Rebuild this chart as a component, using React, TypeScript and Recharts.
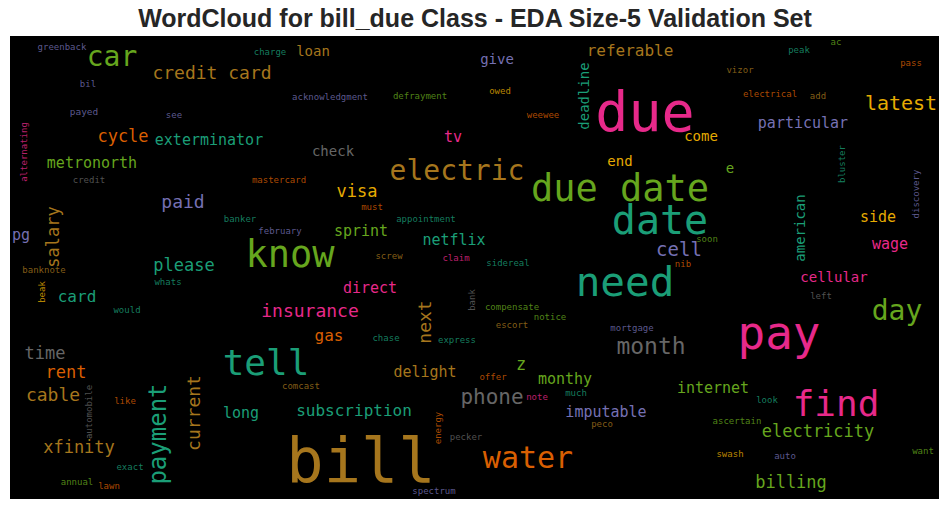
import React from 'react';
import { ScatterChart, Scatter, XAxis, YAxis, ReferenceArea } from 'recharts';

// Dark2 palette, the colormap used by the word cloud
const palette = ['#1b9e77', '#d95f02', '#7570b3', '#e7298a', '#66a61e', '#e6ab02', '#a6761d', '#666666'];
const TEAL = 0, ORANGE = 1, PURPLE = 2, PINK = 3, GREEN = 4, YELLOW = 5, BROWN = 6, GRAY = 7;

const words = [
  'greenback', 'car', 'credit card', 'bil', 'payed', 'see', 'cycle', 'exterminator', 'metronorth', 'alternating',
  'credit', 'charge', 'loan', 'acknowledgment', 'defrayment', 'tv', 'check', 'electric', 'mastercard', 'visa',
  'give', 'referable', 'owed', 'weewee', 'deadline', 'due', 'come', 'end', 'due date', 'peak',
  'ac', 'pass', 'vizor', 'electrical', 'add', 'latest', 'particular', 'e', 'bluster', 'discovery',
  'paid', 'banker', 'pg', 'salary', 'banknote', 'please', 'whats', 'beak', 'card', 'would',
  'must', 'appointment', 'february', 'sprint', 'netflix', 'know', 'screw', 'claim', 'direct', 'bank',
  'insurance', 'next', 'gas', 'chase', 'express', 'date', 'cell', 'soon', 'sidereal', 'nib',
  'need', 'compensate', 'notice', 'escort', 'mortgage', 'month', 'american', 'side', 'wage', 'cellular',
  'left', 'day', 'pay', 'time', 'rent', 'cable', 'automobile', 'like', 'payment', 'current',
  'xfinity', 'exact', 'annual', 'lawn', 'tell', 'long', 'delight', 'comcast', 'phone', 'subscription',
  'energy', 'pecker', 'bill', 'spectrum', 'z', 'offer', 'monthy', 'note', 'much', 'internet',
  'look', 'find', 'imputable', 'peco', 'ascertain', 'electricity', 'water', 'swash', 'auto', 'want',
  'billing',
];

const posX = [
  62, 112, 212, 88, 84, 174, 123, 209, 92, 24,
  89, 270, 313, 330, 420, 453, 333, 457, 279, 357,
  497, 630, 500, 543, 584, 645, 701, 620, 620, 799,
  836, 911, 740, 770, 818, 901, 803, 730, 842, 916,
  183, 240, 21, 53, 44, 184, 168, 42, 77, 127,
  372, 426, 280, 361, 454, 290, 389, 456, 370, 472,
  310, 425, 329, 386, 457, 660, 679, 707, 508, 683,
  625, 512, 550, 512, 632, 651, 800, 878, 890, 834,
  821, 897, 779, 45, 66, 53, 89, 125, 158, 194,
  79, 130, 77, 109, 266, 241, 425, 301, 492, 354,
  438, 466, 361, 434, 521, 493, 565, 537, 576, 713,
  767, 836, 606, 602, 737, 818, 528, 730, 785, 923,
  791,
];

const posY = [
  47, 56, 73, 84, 112, 115, 136, 140, 163, 152,
  180, 52, 51, 97, 96, 137, 151, 170, 180, 191,
  59, 50, 91, 115, 96, 112, 136, 161, 188, 50,
  42, 63, 70, 94, 96, 103, 123, 168, 164, 194,
  202, 219, 235, 237, 270, 265, 282, 292, 296, 310,
  207, 219, 231, 231, 240, 254, 256, 258, 288, 300,
  311, 322, 335, 338, 340, 220, 249, 239, 263, 264,
  282, 307, 317, 325, 328, 346, 228, 217, 244, 277,
  296, 310, 333, 353, 372, 395, 412, 401, 434, 413,
  447, 467, 482, 486, 362, 413, 372, 386, 397, 410,
  428, 437, 460, 491, 364, 377, 379, 397, 393, 388,
  400, 403, 412, 424, 421, 431, 457, 454, 456, 451,
  482,
];

// relative word weight (drawn as font size)
const weights = [
  9, 28, 18, 9, 9.5, 9, 17, 15, 15, 9,
  9, 9, 14, 9, 9, 15, 14, 28, 9, 17,
  14, 16, 9, 9, 14, 55, 14, 14, 37, 9,
  9, 9, 9, 9, 9, 20, 15, 14, 9, 9,
  18, 9, 15, 17, 9, 17, 9, 9, 16, 9,
  9, 9, 9, 15, 15, 37, 9, 9, 15, 9,
  18, 18, 16, 9, 9, 40, 19, 9, 9, 9,
  41, 9, 9, 9, 9, 23, 14, 15, 15, 14,
  9, 28, 46, 17, 17, 18, 9, 9, 24, 18,
  17, 9, 9, 9, 36, 15, 15, 9, 21, 16,
  9, 9, 62, 9, 17, 9, 15, 9, 9, 15,
  9, 36, 15, 9, 9, 17, 30, 9, 9, 9,
  17,
];

const colorIdx = [
  PURPLE, GREEN, BROWN, PURPLE, PURPLE, PURPLE, ORANGE, TEAL, GREEN, PINK,
  GRAY, TEAL, BROWN, PURPLE, GREEN, PINK, GRAY, BROWN, ORANGE, YELLOW,
  PURPLE, BROWN, YELLOW, ORANGE, TEAL, PINK, YELLOW, YELLOW, GREEN, TEAL,
  GREEN, ORANGE, BROWN, ORANGE, BROWN, YELLOW, PURPLE, GREEN, TEAL, PURPLE,
  PURPLE, TEAL, PURPLE, BROWN, BROWN, TEAL, TEAL, YELLOW, TEAL, TEAL,
  ORANGE, TEAL, PURPLE, GREEN, TEAL, GREEN, BROWN, PINK, PINK, GRAY,
  PINK, BROWN, ORANGE, TEAL, TEAL, TEAL, PURPLE, GREEN, TEAL, ORANGE,
  TEAL, GREEN, GREEN, BROWN, PURPLE, GRAY, TEAL, YELLOW, PINK, PINK,
  GRAY, GREEN, PINK, GRAY, ORANGE, BROWN, GRAY, ORANGE, TEAL, BROWN,
  BROWN, TEAL, GREEN, ORANGE, TEAL, TEAL, BROWN, BROWN, GRAY, TEAL,
  ORANGE, GRAY, BROWN, PURPLE, GREEN, ORANGE, GREEN, PINK, TEAL, GREEN,
  TEAL, PINK, PURPLE, BROWN, GREEN, GREEN, ORANGE, YELLOW, PURPLE, GREEN,
  GREEN,
];

const verticalWords = [
  'alternating', 'deadline', 'bluster', 'discovery', 'salary', 'beak', 'bank', 'next',
  'american', 'automobile', 'payment', 'current', 'energy',
];

const data = words.map((w, i) => ({
  word: w,
  x: posX[i],
  y: posY[i],
  weight: weights[i],
  color: palette[colorIdx[i]],
  vertical: verticalWords.includes(w),
}));

const WordShape = (props: any) => {
  const { cx, cy, payload } = props;
  const small = payload.weight < 10;
  return (
    <text
      x={cx}
      y={cy}
      dy="0.35em"
      textAnchor="middle"
      fontFamily="'DejaVu Sans Mono', monospace"
      fontSize={payload.weight}
      fill={payload.color}
      fillOpacity={small ? 0.8 : 1}
      transform={payload.vertical ? `rotate(-90, ${cx}, ${cy})` : undefined}
    >
      {payload.word}
    </text>
  );
};

export default function App() {
  return (
    <div style={{ position: 'absolute', top: 0, left: 0, width: 950, height: 511, background: '#fff' }}>
      <div
        style={{
          position: 'absolute',
          top: 3,
          left: 0,
          width: 950,
          textAlign: 'center',
          fontFamily: "'Liberation Sans', Arial, sans-serif",
          fontWeight: 'bold',
          fontSize: 25,
          color: '#262626',
          lineHeight: '30px',
        }}
      >
        WordCloud for bill_due Class - EDA Size-5 Validation Set
      </div>
      <ScatterChart width={950} height={511} margin={{ top: 0, right: 0, bottom: 0, left: 0 }}>
        <XAxis type="number" dataKey="x" domain={[0, 950]} hide />
        <YAxis type="number" dataKey="y" domain={[0, 511]} reversed hide />
        <ReferenceArea x1={10} x2={939} y1={36} y2={499} fill="#000" fillOpacity={1} stroke="none" />
        <Scatter data={data} shape={WordShape} isAnimationActive={false} />
      </ScatterChart>
    </div>
  );
}
